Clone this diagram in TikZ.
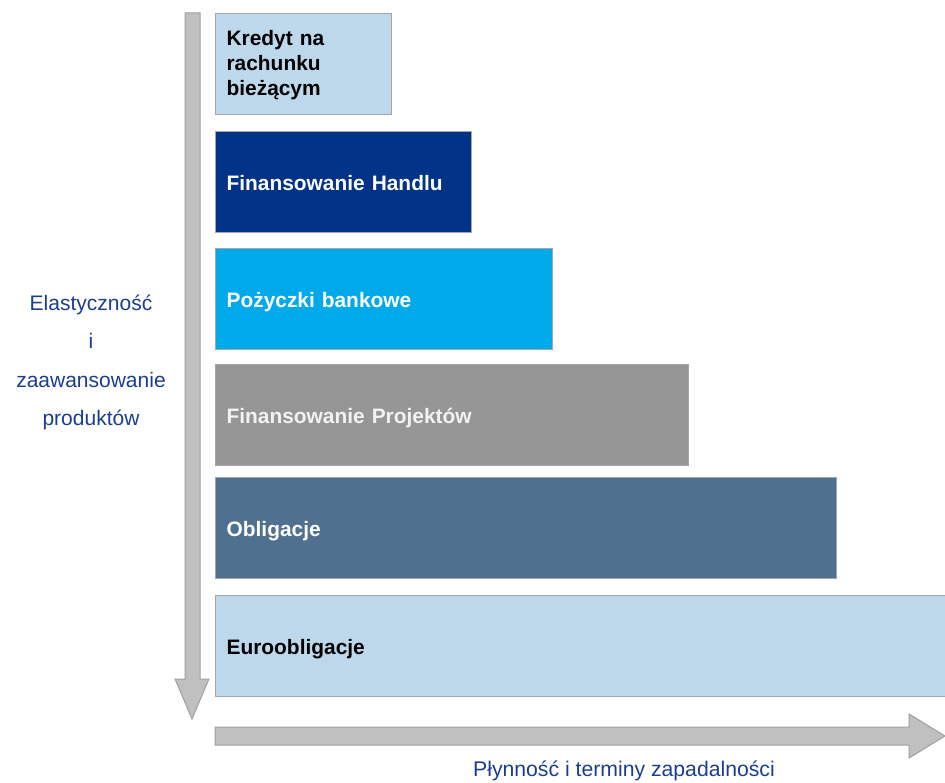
\documentclass[tikz,border=0pt]{standalone}
\usepackage{fontspec}
\setmainfont{Liberation Sans}
\usepackage{tikz}
\definecolor{bleuclair}{RGB}{190,216,235}
\definecolor{marine}{RGB}{0,51,135}
\definecolor{cyanvif}{RGB}{0,169,234}
\definecolor{grismoyen}{RGB}{150,150,150}
\definecolor{ardoise}{RGB}{79,112,143}
\definecolor{texte}{RGB}{28,61,140}
\definecolor{fleche}{RGB}{192,192,192}
\tikzstyle{bloc} = [rectangle, draw={rgb,255:red,166;green,166;blue,166}, line width=1.2pt, anchor=north west, minimum height=101pt, inner xsep=11pt, align=left, text height=20.5pt, text depth=4.5pt, font=\fontsize{20.9}{25}\selectfont\bfseries]
\tikzstyle{grosse} = [fill=fleche, draw={rgb,255:red,160;green,160;blue,160}, line width=1pt]

\begin{document}
\begin{tikzpicture}[x=1pt, y=-1pt]
        \useasboundingbox (0,0) rectangle (945,783);

        % fleches
        \draw[grosse] (185,13) -- (200,13) -- (200,679) -- (209,679) -- (192,719) -- (175,679) -- (185,679) -- cycle;
        \draw[grosse] (215,727) -- (909,727) -- (909,714) -- (945,736) -- (909,758) -- (909,745) -- (215,745) -- cycle;

        \node (kredyt) [bloc, fill=bleuclair, text width=154pt, text height=, text depth=]  at (215,13)  {\rule{0pt}{19pt}Kredyt na\\rachunku\\bieżącym\rule[-6pt]{0pt}{6pt}};
        \node (handel) [bloc, fill=marine, text=white, text width=234pt] at (215,131) {Finansowanie Handlu};
        \node (pozyczki) [bloc, fill=cyanvif, text=white, text width=315pt] at (215,248) {Pożyczki bankowe};
        \node (projekty) [bloc, fill=grismoyen, text={rgb,255:red,242;green,242;blue,242}, text width=451pt] at (215,364) {Finansowanie Projektów};
        \node (obligacje) [bloc, fill=ardoise, text=white, text width=599pt] at (215,477) {Obligacje};
        \node (euro) [bloc, fill=bleuclair, text width=720pt] at (215,595) {Euroobligacje};

        \node (elast) [align=center, text=texte, font=\fontsize{21}{38.3}\selectfont] at (91,362.5) {Elastyczność\\i\\zaawansowanie\\produktów};
        \node (plyn) [text=texte, font=\fontsize{21.2}{25}\selectfont] at (624,771) {Płynność i terminy zapadalności};
    \end{tikzpicture}
\end{document}
